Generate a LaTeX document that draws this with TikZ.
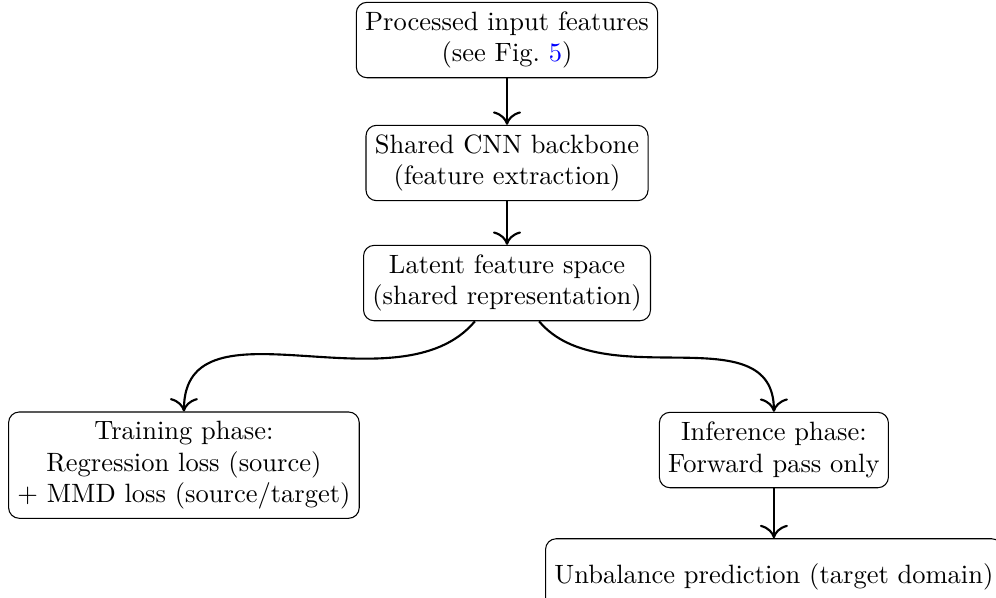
\documentclass[tikz,border=0pt]{standalone}
\usepackage{xcolor}
\usetikzlibrary{arrows.meta}
\begin{document}
\begin{tikzpicture}[x=1pt,y=1pt,
  blockbox/.style={draw, rounded corners=4pt, align=center, minimum height=1cm},
  flow/.style={-{To[scale=1.5]}, thick}]
\useasboundingbox (0,0) rectangle (375.8,-225.3);

\node[blockbox] (proc) at (191.3,-15.1) {Processed input features\\(see Fig.~\textcolor{blue}{5})};
\node[blockbox] (cnn) at (191.3,-61.5) {Shared CNN backbone\\(feature extraction)};
\node[blockbox] (lat) at (191.3,-106.8) {Latent feature space\\(shared representation)};
\node[blockbox] (train) at (69.4,-175.5) {Training phase:\\Regression loss (source)\\+ MMD loss (source/target)};
\node[blockbox] (inf) at (292,-169.8) {Inference phase:\\Forward pass only};
\node[blockbox] (unb) at (292,-217.5) {Unbalance prediction (target domain)};

\draw[flow] (proc) -- (cnn);
\draw[flow] (cnn) -- (lat);
\draw[flow] (lat) to[out=-130, in=90] (train.north);
\draw[flow] (lat) to[out=-50, in=90] (inf.north);
\draw[flow] (inf) -- (unb);
\end{tikzpicture}
\end{document}
